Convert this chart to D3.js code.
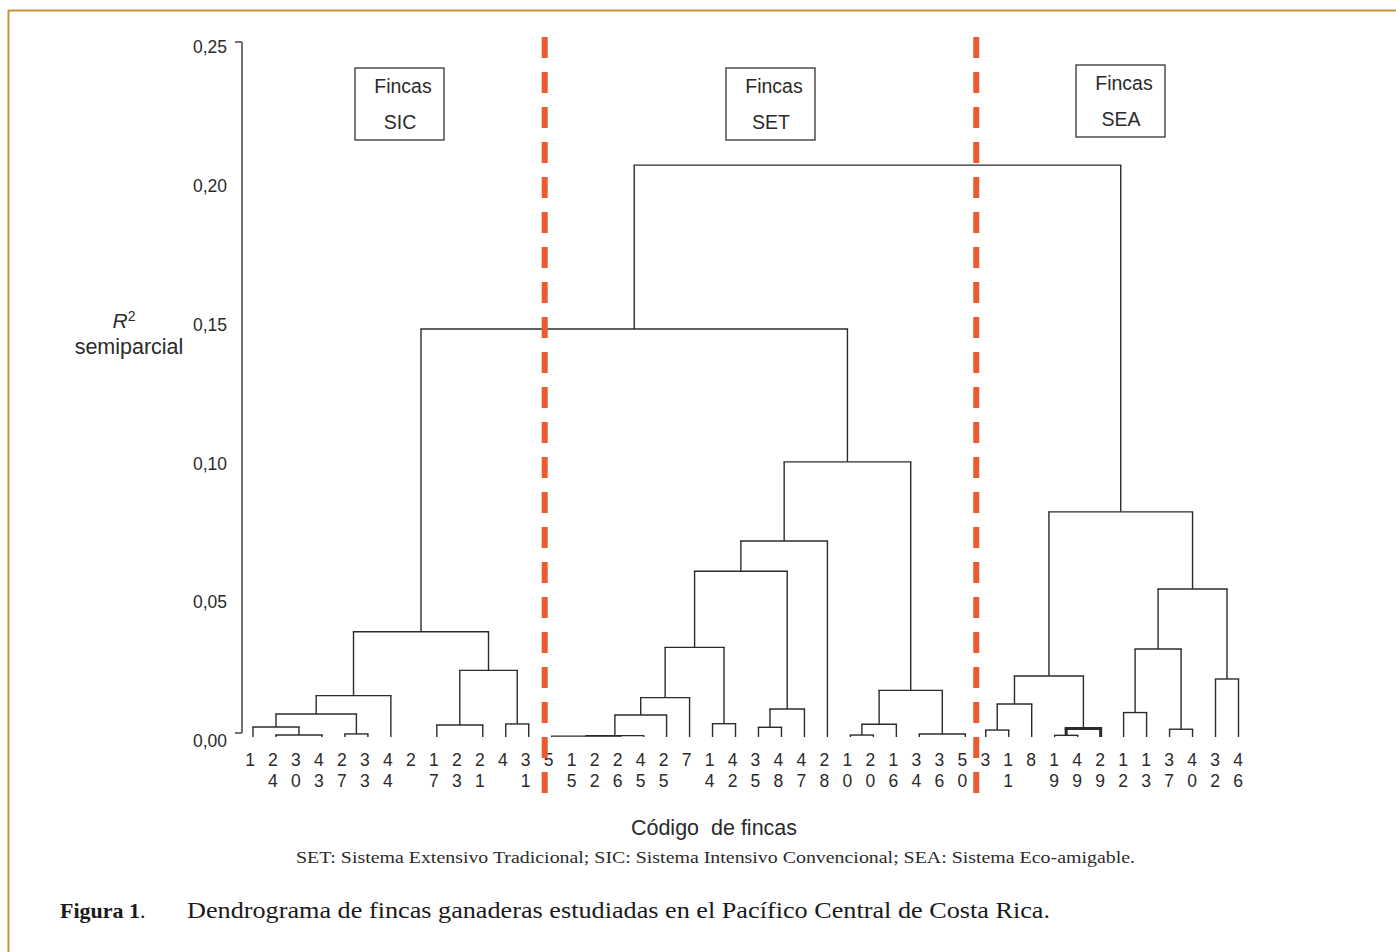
<!DOCTYPE html>
<html><head><meta charset="utf-8">
<script src="https://cdn.jsdelivr.net/npm/d3@7"></script>
<style>
html,body{margin:0;padding:0;background:#fff;}
svg{display:block;}
</style></head>
<body>
<svg id="chart" width="1396" height="952"></svg>
<script>
// ---------- DATA ----------
const leavesSIC = ["1","24","30","43","27","33","44","2","17","23","21","4","31"];
const leavesSET = ["5","15","22","26","45","25","7","14","42","35","48","47","28","10","20","16","34","36","50"];
const leavesSEA = ["3","11","8","19","49","29","12","13","37","40","32","46"];
const groupNames = ["SIC","SET","SEA"];
const tickValues = [0, 0.05, 0.10, 0.15, 0.20, 0.25];
const tickLabels = ["0,00","0,05","0,10","0,15","0,20","0,25"];

// merge nodes: id, height (R² semiparcial), children
const nodeIds = ["A","B","C","D","E","F","G","H","I",
  "J1","J","K","L","M","N","O","P","Q","R","S","T","U","V","W",
  "X","Y","Z","AA","AB","AC","AD","AE","AF","AG","AH","SICSET","ROOT"];
const nodeHeights = [0.0036,0.0007,0.0083,0.0011,0.0149,0.0379,0.0240,0.0043,0.0047,
  0.0003,0.0005,0.0079,0.0142,0.0323,0.0048,0.0597,0.0101,0.0035,0.0706,0.0991,0.0168,0.0046,0.0007,0.0011,
  0.0025,0.0119,0.0220,0.0031,0.0006,0.0811,0.0533,0.0317,0.0088,0.0028,0.0209,0.147,0.206];
const nodeChildren = [
  ["1","B"],["24","30","43"],["A","D"],["27","33"],["C","44"],["E","G"],["H","I"],["17","23","21"],["4","31"],
  ["5","15","22","26"],["J1","45"],["J","25"],["K","7"],["L","N"],["14","42"],["M","P"],["Q","47"],["35","48"],
  ["O","28"],["R","T"],["U","W"],["V","16"],["10","20"],["34","36","50"],
  ["3","11"],["X","8"],["Y","AA"],["AB","29"],["19","49"],["Z","AD"],["AE","AH"],["AF","AG"],["12","13"],
  ["37","40"],["32","46"],["F","S"],["SICSET","AC"]];

// ---------- DRAW ----------
const svg = d3.select("#chart");
const allLeaves = leavesSIC.concat(leavesSET, leavesSEA);
const x = d3.scalePoint().domain(allLeaves).range([250, 1238]);
const y = d3.scaleLinear().domain([0, 0.25]).range([737, 43]);
const sans = "'Liberation Sans', Arial, Helvetica, sans-serif";
const serif = "'Liberation Serif', 'Times New Roman', serif";
const ink = "#2b2b2b";
const seaSet = new Set(leavesSEA);

// frame
svg.append("line").attr("x1",8).attr("x2",1396).attr("y1",10.5).attr("y2",10.5)
  .attr("stroke","#c9923e").attr("stroke-width",2);
svg.append("line").attr("x1",8.5).attr("x2",8.5).attr("y1",10).attr("y2",952)
  .attr("stroke","#c9923e").attr("stroke-width",2);

// build hierarchy
const childMap = new Map(nodeIds.map((id,i)=>[id,{h:nodeHeights[i],c:nodeChildren[i]}]));
function build(id){
  if(childMap.has(id)){
    const n = childMap.get(id);
    return {id, height:n.h, children:n.c.map(build)};
  }
  return {id, height:0, leaf:true};
}
const root = d3.hierarchy(build("ROOT"));
root.eachAfter(d=>{
  if(!d.children){ d.px = x(d.data.id) + (seaSet.has(d.data.id) ? 0.5 : 3); }
  else { d.px = (d.children[0].px + d.children[d.children.length-1].px)/2; }
  d.py = y(d.data.height);
});

const g = svg.append("g");
root.each(d=>{
  if(!d.children) return;
  const sw = d.data.id === "AA" ? 3 : 1.4;
  const first = d.children[0], last = d.children[d.children.length-1];
  g.append("line").attr("x1",first.px).attr("x2",last.px).attr("y1",d.py).attr("y2",d.py)
    .attr("stroke",ink).attr("stroke-width",sw).attr("stroke-linecap","square");
  [first,last].forEach(c=>{
    g.append("line").attr("x1",c.px).attr("x2",c.px).attr("y1",d.py).attr("y2",c.py)
      .attr("stroke",ink).attr("stroke-width", sw);
  });
});

// y axis
const ax = svg.append("g");
const axX = 242;
ax.append("line").attr("x1",axX).attr("x2",axX).attr("y1",y(0.25)-1).attr("y2",y(0)-4)
  .attr("stroke","#444").attr("stroke-width",1.5);
[0.25,0].forEach(v=>{
  const yy = v===0 ? y(0)-4 : y(v)-1;
  ax.append("line").attr("x1",axX-7).attr("x2",axX).attr("y1",yy).attr("y2",yy)
    .attr("stroke","#444").attr("stroke-width",1.5);
});
ax.selectAll("text.tick").data(tickValues).join("text")
  .attr("x",227).attr("y",d=>y(d)+4).attr("dy","0.35em")
  .attr("text-anchor","end").attr("font-family",sans).attr("font-size",17.5).attr("fill",ink)
  .text((d,i)=>tickLabels[i]);

// y axis title
const yt = svg.append("text").attr("x",124).attr("y",321).attr("dy","0.35em")
  .attr("text-anchor","middle").attr("font-family",sans).attr("font-size",21).attr("fill",ink);
yt.append("tspan").attr("font-style","italic").text("R");
yt.append("tspan").attr("font-size",14).attr("dy","-0.55em").text("2");
svg.append("text").attr("x",129).attr("y",346).attr("dy","0.35em")
  .attr("text-anchor","middle").attr("font-family",sans).attr("font-size",21.5).attr("fill",ink)
  .text("semiparcial");

// leaf labels (digits stacked)
const lab = svg.append("g").attr("font-family",sans).attr("font-size",17.5).attr("fill",ink).attr("text-anchor","middle");
allLeaves.forEach(l=>{
  const digits = l.split("");
  digits.forEach((dg,k)=>{
    lab.append("text").attr("x",x(l)).attr("y",760 + k*21).attr("dy","0.35em").text(dg);
  });
});

// group boxes
const boxCx = [400, 771, 1121];
const boxTop = [68, 68, 65];
groupNames.forEach((nm,i)=>{
  const bx = boxCx[i]-45, by = boxTop[i];
  svg.append("rect").attr("x",bx).attr("y",by).attr("width",89).attr("height",72)
    .attr("fill","none").attr("stroke","#333").attr("stroke-width",1.3);
  svg.append("text").attr("x",boxCx[i]+3).attr("y",by+18).attr("dy","0.35em")
    .attr("text-anchor","middle").attr("font-family",sans).attr("font-size",19.5).attr("fill",ink).text("Fincas");
  svg.append("text").attr("x",boxCx[i]).attr("y",by+54).attr("dy","0.35em")
    .attr("text-anchor","middle").attr("font-family",sans).attr("font-size",19.5).attr("fill",ink).text(nm);
});

// dashed separators
const divX = [x(leavesSET[0]) - 4, x(leavesSEA[0]) - 9];
divX.forEach(dx=>{
  svg.append("line").attr("x1",dx).attr("x2",dx).attr("y1",37).attr("y2",794)
    .attr("stroke","#ec5a2f").attr("stroke-width",6).attr("stroke-dasharray","21 14");
});

// x axis title
svg.append("text").attr("x",714).attr("y",827).attr("dy","0.35em")
  .attr("text-anchor","middle").attr("font-family",sans).attr("font-size",21.5).attr("fill",ink)
  .style("white-space","pre").text("Código  de fincas");

// note
svg.append("text").attr("x",296).attr("y",857).attr("dy","0.35em")
  .attr("font-family",serif).attr("font-size",17.5).attr("fill",ink)
  .attr("textLength",839).attr("lengthAdjust","spacingAndGlyphs")
  .text("SET: Sistema Extensivo Tradicional; SIC: Sistema Intensivo Convencional; SEA: Sistema Eco-amigable.");

// caption
const cap = svg.append("text").attr("x",60).attr("y",910).attr("dy","0.35em")
  .attr("font-family",serif).attr("font-size",22).attr("fill","#1a1a1a");
cap.append("tspan").attr("font-weight","bold").text("Figura 1");
cap.append("tspan").text(".");
svg.append("text").attr("x",187).attr("y",910).attr("dy","0.35em")
  .attr("font-family",serif).attr("font-size",22.5).attr("fill","#1a1a1a")
  .attr("textLength",863).attr("lengthAdjust","spacingAndGlyphs")
  .text("Dendrograma de fincas ganaderas estudiadas en el Pacífico Central de Costa Rica.");
</script>
</body></html>
